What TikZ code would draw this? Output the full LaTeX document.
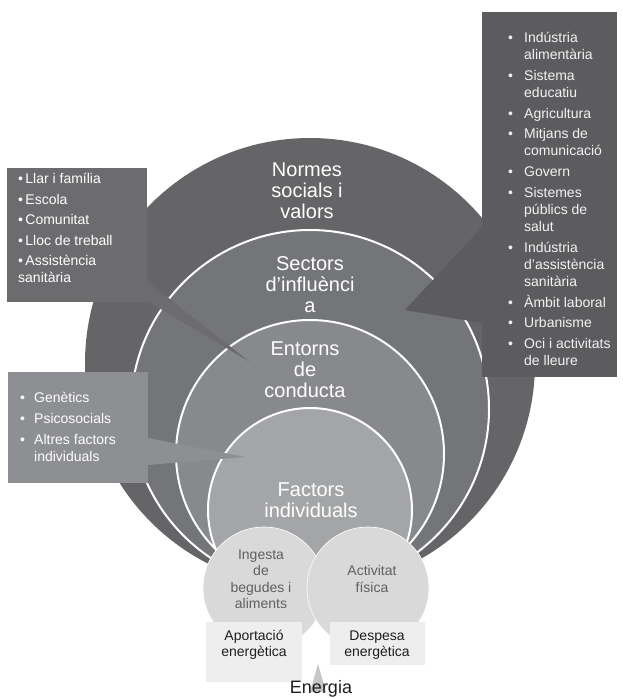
\documentclass[tikz,border=0pt]{standalone}
\usepackage{fontspec}
\setmainfont{Liberation Sans}
\usetikzlibrary{calc}

\definecolor{ringNormes}{HTML}{656567}
\definecolor{ringSectors}{HTML}{747578}
\definecolor{ringEntorns}{HTML}{88898C}
\definecolor{ringFactors}{HTML}{A4A5A7}
\definecolor{boxTopLeft}{HTML}{6C6C6F}
\definecolor{boxRight}{HTML}{5C5C5F}
\definecolor{boxMidLeft}{HTML}{8E8F92}
\definecolor{bubble}{HTML}{D9D9DA}
\definecolor{bubbleText}{HTML}{606060}
\definecolor{flowBox}{HTML}{EEEEEF}
\definecolor{arrowGrey}{HTML}{C6C6C6}
\definecolor{inkDark}{HTML}{1E1E1E}

\newcommand{\bulA}{\makebox[14pt][l]{\textbullet}}
\newcommand{\bulB}{\makebox[16pt][l]{\textbullet}}

\begin{document}
\begin{tikzpicture}[x=1pt,y=-1pt,
  ring/.style={circle, inner sep=0pt},
  inner ring/.style={ring, draw=white, line width=2pt},
  ringlabel/.style={text=white, align=center, inner sep=0pt,
    font=\fontsize{20}{21}\selectfont},
  panel/.style={rectangle, inner sep=0pt, anchor=north west},
  paneltext/.style={text=white, align=left, inner sep=0pt, anchor=north west},
  bubblenode/.style={circle, inner sep=0pt, fill=bubble, draw=white, line width=0.6pt, minimum size=122pt},
  bubblelabel/.style={text=bubbleText, align=center, inner sep=0pt,
    font=\fontsize{14}{16.5}\selectfont},
  flownode/.style={rectangle, inner sep=0pt, anchor=north west, fill=flowBox},
  flowlabel/.style={text=inkDark, align=center, inner sep=0pt,
    font=\fontsize{14}{16.5}\selectfont}]

\useasboundingbox (0,0) rectangle (623,698);
\fill[white] (0,0) rectangle (623,698);

% nested influence circles
\node[ring, fill=ringNormes, minimum size=450pt] (normes) at (310,363) {};
\node[inner ring, fill=ringSectors, minimum size=358pt] (sectors) at (310,409) {};
\node[inner ring, fill=ringEntorns, minimum size=268pt] (entorns) at (310,454) {};
\node[inner ring, fill=ringFactors, minimum size=204pt] (factors) at (310,510) {};

\node[ringlabel] (lnormes) at (307,191) {Normes\\socials i\\valors};
\node[ringlabel] (lsectors) at (310,285) {Sectors\\d’influènci\\a};
\node[ringlabel] (lentorns) at (305,370) {Entorns\\de\\conducta};
\node[ringlabel] (lfactors) at (311,500) {Factors\\individuals};

% callout: settings
\coordinate (tlA) at (147,281);
\coordinate (tlB) at (147,301);
\coordinate (tlTip) at (250,362);
\fill[boxTopLeft] (tlA) -- (tlTip) -- (tlB) -- cycle;
\node[panel, fill=boxTopLeft, minimum width=140pt, minimum height=134pt] (settings) at (7,168) {};
\node[paneltext, font=\fontsize{14}{17}\selectfont] (settingstext) at ($(settings.north west)+(11,5)$)
  {\textbullet\,Llar i família\\[3.5pt]
   \textbullet\,Escola\\[3.5pt]
   \textbullet\,Comunitat\\[3.5pt]
   \textbullet\,Lloc de treball\\[3.5pt]
   \textbullet\,Assistència\\
   sanitària};

% callout: sectors of influence
\coordinate (rA) at (482,227);
\coordinate (rB) at (482,323);
\coordinate (rTip) at (405,310);
\fill[boxRight] (rA) -- (rTip) -- (rB) -- cycle;
\node[panel, fill=boxRight, minimum width=135pt, minimum height=365pt] (sectorbox) at (482,12) {};
\node[paneltext, text=white!95!black, font=\fontsize{14}{17}\selectfont] (sectortext) at ($(sectorbox.north west)+(26,20)$)
  {\bulB Indústria\\ \hspace*{16pt}alimentària\\[3.8pt]
   \bulB Sistema\\ \hspace*{16pt}educatiu\\[3.8pt]
   \bulB Agricultura\\[3.8pt]
   \bulB Mitjans de\\ \hspace*{16pt}comunicació\\[3.8pt]
   \bulB Govern\\[3.8pt]
   \bulB Sistemes\\ \hspace*{16pt}públics de\\ \hspace*{16pt}salut\\[3.8pt]
   \bulB Indústria\\ \hspace*{16pt}d'assistència\\ \hspace*{16pt}sanitària\\[3.8pt]
   \bulB Àmbit laboral\\[3.8pt]
   \bulB Urbanisme\\[3.8pt]
   \bulB Oci i activitats\\ \hspace*{16pt}de lleure};

% callout: individual factors
\coordinate (mA) at (148,438);
\coordinate (mB) at (148,465);
\coordinate (mTip) at (245,457);
\fill[boxMidLeft] (mA) -- (mTip) -- (mB) -- cycle;
\node[panel, fill=boxMidLeft, minimum width=140pt, minimum height=111pt] (individual) at (8,372) {};
\node[paneltext, font=\fontsize{14}{17}\selectfont] (individualtext) at ($(individual.north west)+(12,20)$)
  {\bulA Genètics\\[4pt]
   \bulA Psicosocials\\[4pt]
   \bulA Altres factors\\ \hspace*{14pt}individuals};

% energy balance bubbles
\node[bubblenode] (intake) at (264,588) {};
\node[bubblenode] (activity) at (368,588) {};
\node[bubblelabel] (lintake) at (261,579) {Ingesta\\de\\begudes i\\aliments};
\node[bubblelabel] (lactivity) at (372,579) {Activitat\\física};

% energy in / energy out
\node[flownode, minimum width=96pt, minimum height=60pt] (supply) at (206,622) {};
\node[flownode, minimum width=95pt, minimum height=43pt] (expense) at (330,622) {};
\node[flowlabel] (lsupply) at (254,645) {Aportació\\energètica};
\node[flowlabel] (lexpense) at (377,645) {Despesa\\energètica};

% balance pointer and caption
\coordinate (tipTop) at (318,664);
\coordinate (tipL) at (310,692);
\coordinate (tipR) at (326,692);
\fill[arrowGrey] (tipTop) -- (tipL) -- (tipR) -- cycle;
\node[text=inkDark, inner sep=0pt, anchor=base, font=\fontsize{18}{20}\selectfont] (energia) at (321,693) {Energia};
\end{tikzpicture}
\end{document}
